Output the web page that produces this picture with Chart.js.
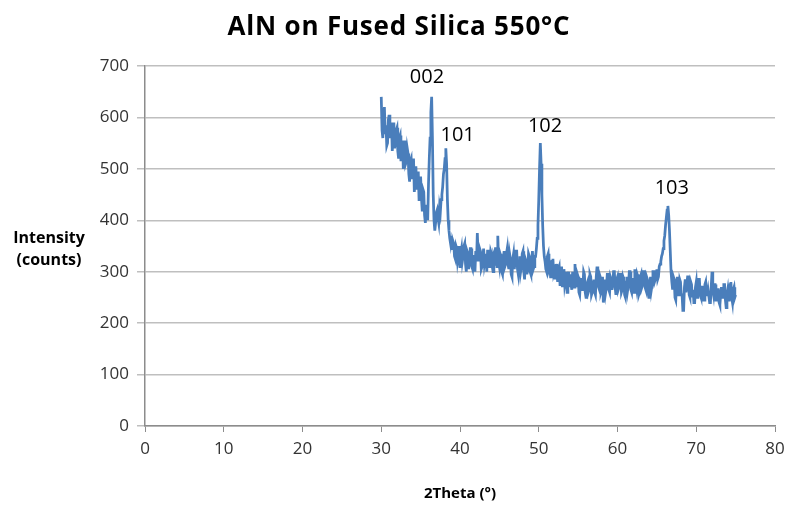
<!DOCTYPE html>
<html>
<head>
<meta charset="utf-8">
<script src="https://cdn.jsdelivr.net/npm/chart.js@4"></script>
<style>
  body { margin: 0; background: #fff; }
  #wrap { width: 794px; height: 506px; }
</style>
</head>
<body>
<div id="wrap"><canvas id="xrdChart" width="794" height="506"></canvas></div>
<script>
// 2Theta positions (degrees), one row per degree
const twoTheta = [
  30.0, 30.1, 30.2, 30.3, 30.4, 30.5, 30.6, 30.7, 30.8, 30.9,
  31.0, 31.1, 31.2, 31.3, 31.4, 31.5, 31.6, 31.7, 31.8, 31.9,
  32.0, 32.1, 32.2, 32.3, 32.4, 32.5, 32.6, 32.7, 32.8, 32.9,
  33.0, 33.1, 33.2, 33.3, 33.4, 33.5, 33.6, 33.7, 33.8, 33.9,
  34.0, 34.1, 34.2, 34.3, 34.4, 34.5, 34.6, 34.7, 34.8, 34.9,
  35.0, 35.1, 35.2, 35.3, 35.4, 35.5, 35.6, 35.7, 35.8, 35.9,
  36.0, 36.1, 36.2, 36.3, 36.4, 36.5, 36.6, 36.7, 36.8, 36.9,
  37.0, 37.1, 37.2, 37.3, 37.4, 37.5, 37.6, 37.7, 37.8, 37.9,
  38.0, 38.1, 38.2, 38.3, 38.4, 38.5, 38.6, 38.7, 38.8, 38.9,
  39.0, 39.1, 39.2, 39.3, 39.4, 39.5, 39.6, 39.7, 39.8, 39.9,
  40.0, 40.1, 40.2, 40.3, 40.4, 40.5, 40.6, 40.7, 40.8, 40.9,
  41.0, 41.1, 41.2, 41.3, 41.4, 41.5, 41.6, 41.7, 41.8, 41.9,
  42.0, 42.1, 42.2, 42.3, 42.4, 42.5, 42.6, 42.7, 42.8, 42.9,
  43.0, 43.1, 43.2, 43.3, 43.4, 43.5, 43.6, 43.7, 43.8, 43.9,
  44.0, 44.1, 44.2, 44.3, 44.4, 44.5, 44.6, 44.7, 44.8, 44.9,
  45.0, 45.1, 45.2, 45.3, 45.4, 45.5, 45.6, 45.7, 45.8, 45.9,
  46.0, 46.1, 46.2, 46.3, 46.4, 46.5, 46.6, 46.7, 46.8, 46.9,
  47.0, 47.1, 47.2, 47.3, 47.4, 47.5, 47.6, 47.7, 47.8, 47.9,
  48.0, 48.1, 48.2, 48.3, 48.4, 48.5, 48.6, 48.7, 48.8, 48.9,
  49.0, 49.1, 49.2, 49.3, 49.4, 49.5, 49.6, 49.7, 49.8, 49.9,
  50.0, 50.1, 50.2, 50.3, 50.4, 50.5, 50.6, 50.7, 50.8, 50.9,
  51.0, 51.1, 51.2, 51.3, 51.4, 51.5, 51.6, 51.7, 51.8, 51.9,
  52.0, 52.1, 52.2, 52.3, 52.4, 52.5, 52.6, 52.7, 52.8, 52.9,
  53.0, 53.1, 53.2, 53.3, 53.4, 53.5, 53.6, 53.7, 53.8, 53.9,
  54.0, 54.1, 54.2, 54.3, 54.4, 54.5, 54.6, 54.7, 54.8, 54.9,
  55.0, 55.1, 55.2, 55.3, 55.4, 55.5, 55.6, 55.7, 55.8, 55.9,
  56.0, 56.1, 56.2, 56.3, 56.4, 56.5, 56.6, 56.7, 56.8, 56.9,
  57.0, 57.1, 57.2, 57.3, 57.4, 57.5, 57.6, 57.7, 57.8, 57.9,
  58.0, 58.1, 58.2, 58.3, 58.4, 58.5, 58.6, 58.7, 58.8, 58.9,
  59.0, 59.1, 59.2, 59.3, 59.4, 59.5, 59.6, 59.7, 59.8, 59.9,
  60.0, 60.1, 60.2, 60.3, 60.4, 60.5, 60.6, 60.7, 60.8, 60.9,
  61.0, 61.1, 61.2, 61.3, 61.4, 61.5, 61.6, 61.7, 61.8, 61.9,
  62.0, 62.1, 62.2, 62.3, 62.4, 62.5, 62.6, 62.7, 62.8, 62.9,
  63.0, 63.1, 63.2, 63.3, 63.4, 63.5, 63.6, 63.7, 63.8, 63.9,
  64.0, 64.1, 64.2, 64.3, 64.4, 64.5, 64.6, 64.7, 64.8, 64.9,
  65.0, 65.1, 65.2, 65.3, 65.4, 65.5, 65.6, 65.7, 65.8, 65.9,
  66.0, 66.1, 66.2, 66.3, 66.4, 66.5, 66.6, 66.7, 66.8, 66.9,
  67.0, 67.1, 67.2, 67.3, 67.4, 67.5, 67.6, 67.7, 67.8, 67.9,
  68.0, 68.1, 68.2, 68.3, 68.4, 68.5, 68.6, 68.7, 68.8, 68.9,
  69.0, 69.1, 69.2, 69.3, 69.4, 69.5, 69.6, 69.7, 69.8, 69.9,
  70.0, 70.1, 70.2, 70.3, 70.4, 70.5, 70.6, 70.7, 70.8, 70.9,
  71.0, 71.1, 71.2, 71.3, 71.4, 71.5, 71.6, 71.7, 71.8, 71.9,
  72.0, 72.1, 72.2, 72.3, 72.4, 72.5, 72.6, 72.7, 72.8, 72.9,
  73.0, 73.1, 73.2, 73.3, 73.4, 73.5, 73.6, 73.7, 73.8, 73.9,
  74.0, 74.1, 74.2, 74.3, 74.4, 74.5, 74.6, 74.7, 74.8, 74.9,
  75.0
];

const intensity = [
  640, 575, 560, 600, 620, 570, 585, 545, 550, 595,
  605, 560, 570, 590, 535, 565, 590, 540, 555, 575,
  580, 535, 520, 560, 565, 515, 540, 555, 500, 530,
  555, 510, 515, 540, 530, 490, 475, 515, 520, 480,
  495, 520, 455, 480, 505, 460, 470, 495, 440, 470,
  485, 445, 420, 460, 455, 410, 395, 420, 430, 400,
  470, 520, 560, 610, 640, 560, 450, 400, 380, 395,
  415, 420, 405, 395, 425, 415, 440, 450, 465, 490,
  500, 520, 540, 510, 440, 400, 380, 365, 355, 370,
  345, 360, 355, 330, 325, 350, 345, 320, 330, 350,
  310, 335, 345, 320, 330, 350, 355, 315, 300, 340,
  335, 305, 320, 345, 345, 310, 305, 330, 330, 300,
  340, 320, 375, 335, 320, 345, 340, 305, 310, 330,
  345, 315, 325, 335, 300, 340, 340, 310, 315, 340,
  335, 310, 300, 330, 325, 345, 345, 310, 370, 320,
  310, 335, 330, 300, 295, 325, 340, 310, 315, 335,
  345, 315, 305, 335, 325, 295, 290, 325, 335, 305,
  320, 340, 340, 305, 295, 320, 330, 300, 310, 335,
  340, 300, 285, 325, 320, 295, 305, 335, 330, 300,
  295, 320, 340, 305, 310, 330, 330, 345, 365, 390,
  440, 500, 550, 510, 450, 390, 350, 330, 320, 305,
  300, 330, 335, 305, 310, 290, 290, 320, 325, 295,
  300, 285, 315, 300, 280, 305, 310, 275, 295, 310,
  270, 300, 305, 275, 285, 300, 260, 280, 300, 270,
  295, 275, 265, 300, 290, 270, 315, 285, 270, 295,
  290, 260, 255, 285, 285, 265, 270, 300, 295, 260,
  250, 275, 280, 260, 265, 295, 290, 255, 260, 280,
  285, 260, 255, 290, 310, 275, 270, 295, 290, 260,
  265, 290, 240, 270, 285, 260, 270, 295, 295, 265,
  260, 290, 285, 265, 275, 300, 300, 270, 255, 285,
  290, 265, 270, 295, 295, 260, 265, 290, 285, 255,
  250, 280, 290, 265, 275, 300, 300, 265, 260, 285,
  285, 260, 305, 280, 270, 295, 290, 255, 260, 290,
  295, 270, 275, 300, 300, 270, 265, 290, 285, 260,
  250, 275, 290, 265, 275, 300, 300, 280, 285, 300,
  305, 285, 290, 310, 315, 320, 330, 335, 345, 360,
  370, 390, 405, 420, 428, 410, 380, 340, 300, 280,
  265, 290, 285, 250, 245, 280, 290, 255, 260, 285,
  280, 255, 255, 225, 225, 270, 285, 260, 260, 290,
  290, 255, 250, 280, 275, 250, 265, 240, 240, 270,
  280, 250, 255, 285, 285, 255, 250, 270, 270, 245,
  245, 275, 280, 255, 255, 265, 265, 240, 240, 270,
  300, 265, 255, 275, 275, 245, 245, 265, 265, 240,
  235, 255, 270, 250, 250, 275, 275, 245, 230, 255,
  265, 245, 245, 275, 280, 250, 240, 265, 270, 250,
  255
];

// reflection labels and where they sit (data units)
const peakNames = ['002', '101', '102', '103'];
const peakLabelX = [35.8, 39.7, 50.8, 66.9];
const peakLabelY = [679, 566, 582, 463];

const FONT = '"Open Sans", Lato, sans-serif';

// Draws title, axis titles and the peak labels
const textPlugin = {
    id: 'chartTexts',
    afterDraw(chart) {
        const ctx = chart.ctx;
        const xs = chart.scales.x;
        const ys = chart.scales.y;
        ctx.save();
        ctx.fillStyle = '#000';
        ctx.textAlign = 'center';
        ctx.textBaseline = 'middle';

        ctx.font = 'bold 26px ' + FONT;
        ctx.letterSpacing = '0.8px';
        ctx.fillText('AlN on Fused Silica 550°C', 399, 28);
        ctx.letterSpacing = '0px';

        ctx.font = 'bold 16px ' + FONT;
        ctx.fillText('Intensity', 49, 238);
        ctx.fillText('(counts)', 49, 260);
        ctx.font = 'bold 15px ' + FONT;
        ctx.fillText('2Theta (°)', 460, 494);

        ctx.font = '20px ' + FONT;
        peakNames.forEach((name, i) => {
            ctx.fillText(name, xs.getPixelForValue(peakLabelX[i]), ys.getPixelForValue(peakLabelY[i]));
        });
        ctx.restore();
    }
};

const ctx = document.getElementById('xrdChart').getContext('2d');
new Chart(ctx, {
    type: 'line',
    data: {
        datasets: [{
            label: 'AlN 550°C',
            data: twoTheta.map((t, i) => ({ x: t, y: intensity[i] })),
            borderColor: '#4a7ebb',
            borderWidth: 2.75,
            pointRadius: 0,
            tension: 0,
            fill: false
        }]
    },
    options: {
        responsive: false,
        animation: false,
        layout: { padding: { top: 66, right: 19, bottom: 0, left: 0 } },
        plugins: {
            legend: { display: false },
            title: { display: false },
            tooltip: { enabled: false }
        },
        scales: {
            x: {
                type: 'linear',
                min: 0,
                max: 80,
                ticks: { stepSize: 10, color: '#333', font: { family: FONT, size: 17 }, padding: 7, maxRotation: 0 },
                grid: { drawOnChartArea: false, drawTicks: true, tickLength: 6, color: '#8c8c8c' },
                border: { color: '#8c8c8c', width: 1.5 },
                afterFit: (scale) => { scale.height = 80; }
            },
            y: {
                min: 0,
                max: 700,
                ticks: { stepSize: 100, color: '#333', font: { family: FONT, size: 17 }, padding: 8 },
                grid: { color: '#bfbfbf', lineWidth: 1.5, tickLength: 8 },
                border: { color: '#8c8c8c', width: 1.5 },
                afterFit: (scale) => { scale.width = 145; }
            }
        }
    },
    plugins: [textPlugin]
});
</script>
</body>
</html>
